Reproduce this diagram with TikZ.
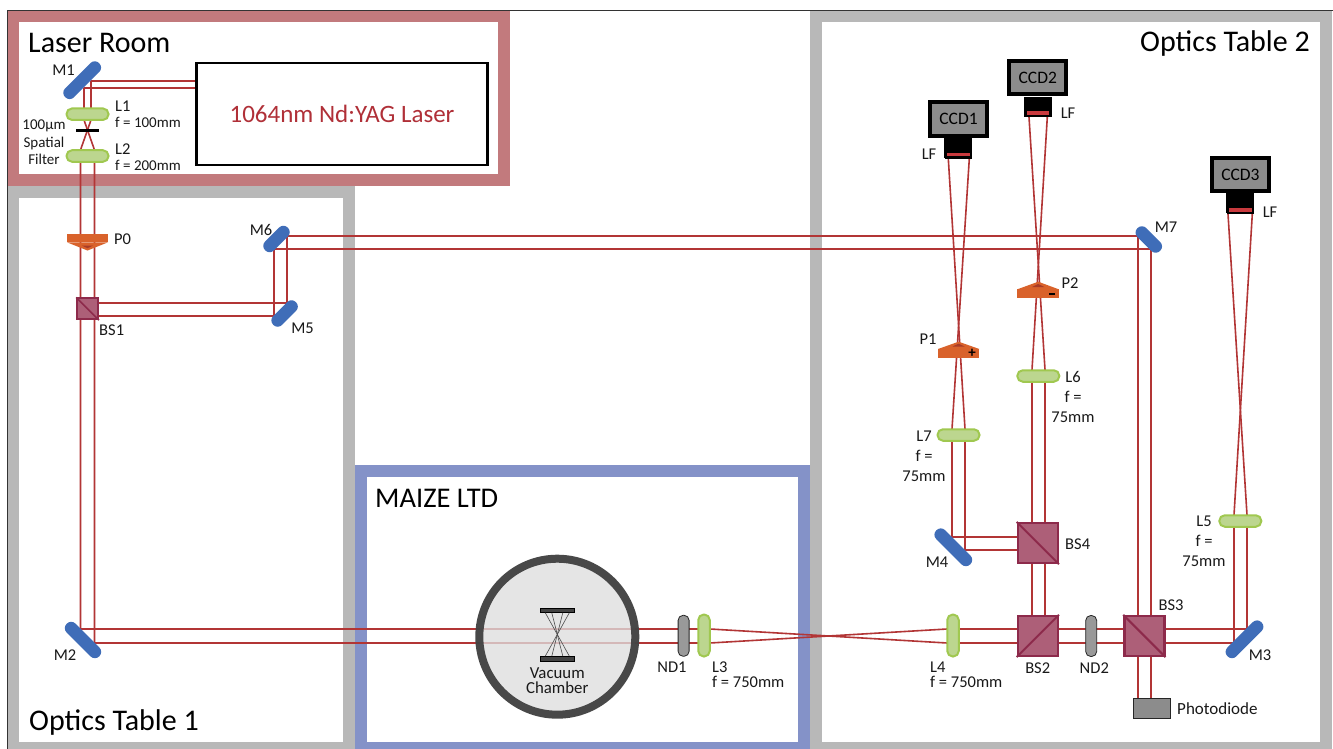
\documentclass[tikz,border=0pt]{standalone}
\usepackage{fontspec}
\setmainfont{Carlito}
\definecolor{beamc}{HTML}{B23535}
\definecolor{roomc}{HTML}{C27A7D}
\definecolor{tablec}{HTML}{B8B8B8}
\definecolor{maizec}{HTML}{8492C8}
\definecolor{mirrorc}{HTML}{3F6DB8}
\definecolor{lensf}{HTML}{BCD68F}
\definecolor{lensd}{HTML}{A0C850}
\definecolor{cubef}{HTML}{AD5F78}
\definecolor{cubed}{HTML}{8D2A4B}
\definecolor{prismc}{HTML}{D9622B}
\definecolor{prismd}{HTML}{A83B28}
\definecolor{greyf}{HTML}{8C8C8C}
\definecolor{ringc}{HTML}{434343}
\definecolor{lasertext}{HTML}{B03038}
\definecolor{filtc}{HTML}{C93A3E}
\tikzset{
  panel/.style={line width=12pt,fill=white,line join=miter},
  beam/.style={draw=beamc,line width=1.6pt,line join=round},
  mirror/.style={draw=none,fill=mirrorc,rounded corners=6pt,minimum height=12.5pt,inner sep=0pt},
  lensnode/.style={draw=lensd,line width=2pt,fill=lensf,rounded corners=5.5pt,inner sep=0pt},
  cube/.style={draw=cubed,line width=2.2pt,fill=cubef,minimum size=40pt,inner sep=0pt},
  nd/.style={draw=black!85,line width=.8pt,fill=black!40,rounded corners=5pt,minimum width=11pt,minimum height=41pt,inner sep=0pt},
  lbl/.style={inner sep=0pt,yshift=-.7pt,align=center,font=\fontsize{16.5}{16}\selectfont,text=black!90},
  lbll/.style={lbl,anchor=west},
  small/.style={font=\fontsize{15}{15}\selectfont},
  ccd/.style={draw=black,line width=4pt,fill=greyf,minimum width=57pt,minimum height=33.5pt,inner sep=0pt,font=\fontsize{17.5}{17}\selectfont},
  neck/.style={fill=black,minimum width=28pt,minimum height=20pt,inner sep=0pt},
  filt/.style={draw=black,line width=2.2pt,fill=filtc,minimum width=25pt,minimum height=6pt,inner sep=0pt},
  title/.style={inner sep=0pt,anchor=west,font=\fontsize{30}{30}\selectfont},
}
\begin{document}
\begin{tikzpicture}[x=1pt,y=-1pt]
\useasboundingbox (0,0) rectangle (1333,749);
% panels
\draw[panel,draw=tablec] (13,192) rectangle (349,748);
\draw[panel,draw=tablec] (816,16) rectangle (1326,748);
\draw[panel,draw=maizec] (361,471) rectangle (804,748);
\draw[panel,draw=roomc] (13,16) rectangle (504,180);
\draw[line width=.7pt,black!80] (7,749) -- (7,10) -- (1333,10);
\node[title] (troom) at (28,43) {Laser Room};
\node[title,anchor=east] (ttwo) at (1310,44) {Optics Table 2};
\node[title] (tone) at (29,722) {Optics Table 1};
\node[title,font=\fontsize{28.5}{30}\selectfont] (tmaize) at (375,498) {MAIZE LTD};
% beam points
\foreach \n/\x/\y in {
 la/196/81, lb/196/88, mIa/91/81, mIb/84/88, lIa/91/120, lIb/84/120,
 lIIa/80.5/150, lIIb/94.5/150, mIIa/80.5/629, mIIb/94.5/643,
 lIIIa/710/629, lIIIb/710/643, lIVa/947/643, lIVb/947/629,
 mIIIa/1234/643, mIIIb/1247/629, lVa/1234/515, lVb/1247/515, fIIIa/1252.3/214, fIIIb/1228/214,
 bIa/85/303, bIb/85/316, mVa/287/303, mVb/274/316, mVIa/287/236, mVIb/274/249,
 mVIIa/1138/236, mVIIb/1151/249, pdA/1138/698, pdB/1151/698,
 bIIa/1032/629, bIIb/1045/643, lVIa/1032/369.7, lVIb/1045/369.7, fIIa/1047.3/117, fIIb/1029/117,
 bIVa/1032/537, bIVb/1045/550, mIVa/952/537, mIVb/965/550, lVIIa/952/429, lVIIb/965/429,
 fIa/969.3/158.7, fIb/948.3/158.7}
 {\coordinate (\n) at (\x,\y);}
% beams
\draw[beam] (la) -- (mIa) -- (lIa) -- (lIIa) -- (mIIa) -- (lIIIa) -- (lIVa) -- (mIIIa) -- (lVa) -- (fIIIa);
\draw[beam] (lb) -- (mIb) -- (lIb) -- (lIIb) -- (mIIb) -- (lIIIb) -- (lIVb) -- (mIIIb) -- (lVb) -- (fIIIb);
\draw[beam] (bIa) -- (mVa) -- (mVIa) -- (mVIIa) -- (pdA);
\draw[beam] (bIb) -- (mVb) -- (mVIb) -- (mVIIb) -- (pdB);
\draw[beam] (bIIa) -- (lVIa) -- (fIIa);
\draw[beam] (bIIb) -- (lVIb) -- (fIIb);
\draw[beam] (bIVa) -- (mIVa) -- (lVIIa) -- (fIa);
\draw[beam] (bIVb) -- (mIVb) -- (lVIIb) -- (fIb);
% laser
\node[draw=black,line width=2.2pt,fill=white,minimum width=291pt,minimum height=102pt,inner sep=0pt,text=lasertext,font=\fontsize{25}{25}\selectfont] (laser) at (342,114) {\raisebox{-1pt}{1064nm Nd:YAG Laser}};
% mirrors
\node[mirror,rotate=45,minimum width=48pt] (M1) at (82.2,80.2) {};
\node[mirror,rotate=-45,minimum width=46pt] (M2) at (83,640) {};
\node[mirror,rotate=45,minimum width=48pt] (M3) at (1244.5,639.3) {};
\node[mirror,rotate=-45,minimum width=48pt] (M4) at (953.3,547.3) {};
\node[mirror,rotate=45,minimum width=32pt] (M5) at (284.6,313.5) {};
\node[mirror,rotate=45,minimum width=32pt] (M6) at (276.5,239) {};
\node[mirror,rotate=-45,minimum width=32pt] (M7) at (1148.8,239.5) {};
% lenses
\node[lensnode,minimum width=42pt,minimum height=11.5pt] (L1) at (87.5,114.2) {};
\node[lensnode,minimum width=42pt,minimum height=11.5pt] (L2) at (87.5,156) {};
\node[lensnode,minimum width=11.5pt,minimum height=42pt] (L3) at (704,635.5) {};
\node[lensnode,minimum width=11.5pt,minimum height=42pt] (L4) at (953,635.5) {};
\node[lensnode,minimum width=42pt,minimum height=11.5pt] (L5) at (1240.3,521) {};
\node[lensnode,minimum width=42pt,minimum height=11.5pt] (L6) at (1038.3,376) {};
\node[lensnode,minimum width=42pt,minimum height=11.5pt] (L7) at (958.5,435) {};
\node[fill=black,minimum width=23pt,minimum height=3pt,inner sep=0pt] (SF) at (87.5,130.2) {};
% ND filters
\node[nd] (ND1) at (683.6,635.8) {};
\node[nd] (ND2) at (1091.2,636) {};
% cubes
\node[cube,minimum size=21pt,line width=1.8pt] (BS1) at (87.6,308.8) {};
\draw[cubed,line width=1.5pt] (BS1.north west) -- (BS1.south east);
\node[cube] (BS2) at (1037.8,636) {};
\draw[cubed,line width=2pt] (BS2.south west) -- (BS2.north east);
\node[cube] (BS3) at (1144.4,636) {};
\draw[cubed,line width=2pt] (BS3.north west) -- (BS3.south east);
\node[cube] (BS4) at (1037.8,543) {};
\draw[cubed,line width=2pt] (BS4.north west) -- (BS4.south east);
% prisms
\fill[prismc] (67,234) rectangle (108,242.3);
\fill[prismc] (67,242.3) -- (87.5,250.5) -- (108,242.3) -- cycle;
\fill[prismd] (81.7,245.5) -- (87.5,248.2) -- (93.3,245.5) -- cycle;
\fill[prismc] (938,349) rectangle (979.3,358);
\fill[prismc] (938,349) -- (958.6,341.7) -- (979.3,349) -- cycle;
\fill[prismd] (952.5,346.5) -- (958.6,343.7) -- (964.7,346.5) -- cycle;
\fill[prismc] (1017.3,289.3) rectangle (1058.7,298.3);
\fill[prismc] (1017.3,289.3) -- (1038.2,281.7) -- (1058.7,289.3) -- cycle;
\fill[prismd] (1032,287) -- (1038.2,284) -- (1044.4,287) -- cycle;
\node[inner sep=0pt,font=\fontsize{15}{15}\selectfont\bfseries] (plus) at (972,353) {+};
\fill[black] (1049.2,293.4) rectangle (1054.8,295.2);
% cameras
\node[neck] (nI) at (958.3,148) {};
\node[filt] (fI) at (958.3,154.5) {};
\node[ccd] (CCDI) at (958.5,119.2) {CCD1};
\node[neck] (nII) at (1038,107) {};
\node[filt] (fII) at (1038,113) {};
\node[ccd] (CCDII) at (1037.8,77.7) {CCD2};
\node[neck] (nIII) at (1240.4,203) {};
\node[filt] (fIII) at (1240.4,210) {};
\node[ccd] (CCDIII) at (1240.4,174.7) {CCD3};
% photodiode
\node[draw=black!85,line width=.8pt,fill=greyf,minimum width=37.5pt,minimum height=20pt,inner sep=0pt] (PD) at (1152,708) {};
% chamber
\node[circle,draw=ringc,line width=8pt,fill=black!13,fill opacity=.78,draw opacity=.97,minimum size=156pt,inner sep=0pt] (VC) at (557.3,636.7) {};
\node[draw=black,line width=.4pt,fill=ringc,minimum width=34.5pt,minimum height=4.4pt,inner sep=0pt] (pt) at (557.3,610.4) {};
\node[draw=black,line width=.4pt,fill=ringc,minimum width=34.5pt,minimum height=4.4pt,inner sep=0pt] (pb) at (557.3,658.5) {};
\foreach \a/\b in {-12/12,-5.5/5.5,5.5/-5.5,12/-12}
  \draw[black!70,line width=.6pt] ([xshift=\a pt]pt.south) -- ([xshift=\b pt]pb.north);
\node[lbl,font=\fontsize{16.8}{15.5}\selectfont] (vc) at (557.3,680) {Vacuum\\Chamber};
% labels
\node[lbl] (tM1) at (63.5,69) {M1};
\node[lbll] (tL1) at (115,105.5) {L1};
\node[lbll,small] (tf1) at (115,122) {f = 100mm};
\node[lbl,font=\fontsize{15}{17.5}\selectfont] (tsf) at (44,141.5) {100µm\\Spatial\\Filter};
\node[lbll] (tL2) at (115,148.5) {L2};
\node[lbll,small] (tf2) at (115,165) {f = 200mm};
\node[lbll] (tP0) at (114,239) {P0};
\node[lbl] (tM6) at (261,229.5) {M6};
\node[lbll] (tBS1) at (99,330) {BS1};
\node[lbl] (tM5) at (302.5,328) {M5};
\node[lbl] (tM2) at (65,654) {M2};
\node[lbl] (tND1) at (672,666) {ND1};
\node[lbll] (tL3) at (712,666) {L3};
\node[lbll] (tf3) at (712,681) {f = 750mm};
\node[lbll] (tL4) at (930,666) {L4};
\node[lbll] (tf4) at (930,681) {f = 750mm};
\node[lbl] (tBS2) at (1037.7,667) {BS2};
\node[lbl] (tND2) at (1094.3,667) {ND2};
\node[lbl] (tBS3) at (1171,604) {BS3};
\node[lbl] (tM3) at (1260,654) {M3};
\node[lbll,font=\fontsize{17}{16}\selectfont] (tPD) at (1177,708) {Photodiode};
\node[lbll] (tBS4) at (1065,543) {BS4};
\node[lbl] (tM4) at (937,561) {M4};
\node[lbl,font=\fontsize{16.5}{20}\selectfont] (tL5) at (1204,540.5) {L5\\f =\\75mm};
\node[lbl,font=\fontsize{16.5}{20}\selectfont] (tL6) at (1073,396) {L6\\f =\\75mm};
\node[lbl,font=\fontsize{16.5}{20}\selectfont] (tL7) at (924,455.5) {L7\\f =\\75mm};
\node[lbl] (tP1) at (928,338) {P1};
\node[lbl] (tP2) at (1070,282) {P2};
\node[lbl] (tLFa) at (929,154) {LF};
\node[lbl] (tLFb) at (1068,113) {LF};
\node[lbl] (tLFc) at (1270,212) {LF};
\node[lbl] (tM7) at (1166,227) {M7};
\end{tikzpicture}
\end{document}
